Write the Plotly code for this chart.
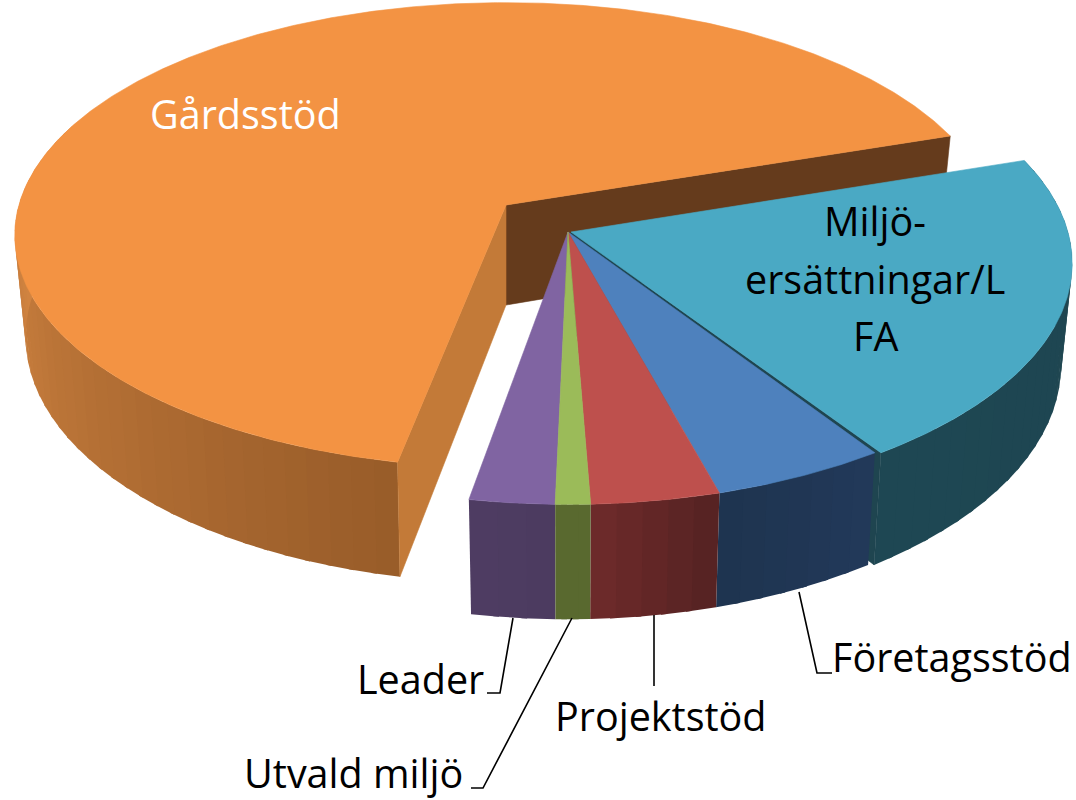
import numpy as np
import plotly.graph_objects as go

# Data (share of budget, %)
categories = ["Gårdsstöd", "Miljöersättningar/LFA", "Företagsstöd", "Projektstöd", "Utvald miljö", "Leader"]
values = [66.8, 20.7, 5.05, 3.7, 1.0, 2.45]

# Style
top_colors = ["#F39343", "#4AA9C4", "#4E81BD", "#BE504D", "#9BBB59", "#8064A2"]
wall_left = ["#D48642", "#1E4753", "#1E344F", "#6E2B2B", "#59692F", "#4E3C62"]
wall_right = ["#985C29", "#1F4550", "#22395A", "#552222", "#59692F", "#4C3B60"]
cut_colors = ("#C37A38", "#653B1C")
offsets = [(506, 205), (571, 232), (568, 232), (568, 232), (568, 232), (568, 232)]
scale_a = [0.99, 1.01, 1.0, 1.0, 1.0, 1.0]
scale_b = [0.965, 1.0, 1.0, 1.0, 1.0, 1.0]
ROT, A, B, K, DEPTH, CONVERGE = -168.8, 492.0, 237.0, 0.13, 100.0, 0.022


def project(theta, r, i, drop=0.0):
    t = np.radians(theta)
    X, Y = r * np.sin(t), r * np.cos(t)
    w = 1 + K * Y
    o = offsets[i]
    return (o[0] + A * scale_a[i] * X / w * (1 - CONVERGE * drop),
            o[1] - B * scale_b[i] * Y / w + drop * DEPTH / w)


def mix(c1, c2, f):
    a = [int(c1[i:i + 2], 16) for i in (1, 3, 5)]
    b = [int(c2[i:i + 2], 16) for i in (1, 3, 5)]
    return "rgb(%d,%d,%d)" % tuple(round(p + (q - p) * f) for p, q in zip(a, b))


def poly(fig, xs, ys, color, width=0.6):
    fig.add_trace(go.Scatter(x=list(xs), y=list(ys), mode="lines", fill="toself", fillcolor=color,
                             line=dict(color=color, width=width), hoverinfo="skip", showlegend=False))


def cut_face(fig, ang, i, color):
    x0, y0 = project(ang, 0, i)
    x1, y1 = project(ang, 1, i)
    x2, y2 = project(ang, 1, i, 1)
    x3, y3 = project(ang, 0, i, 1)
    poly(fig, [x0, x1, x2, x3, x0], [y0, y1, y2, y3, y0], color)


edges = ROT + np.concatenate([[0], np.cumsum(values)]) * 3.6
fig = go.Figure()


def draw_slice(i):
    a0, a1 = edges[i], edges[i + 1]
    # outer wall in bands of the gradient; each band overlaps the next to hide seams
    if i == 0:
        ts = np.linspace(a0, a0 + 100, 41)      # only the part facing the viewer
        span = 85.0
    else:
        ts = np.linspace(a0, a1, max(3, int((a1 - a0) / 2.5)) + 1)
        span = a1 - a0
    for j in range(len(ts) - 1):
        tm = (ts[j] + ts[j + 1]) / 2
        tn = min(ts[j + 1] + 0.6, ts[-1])
        x0, y0 = project(ts[j], 1, i)
        x1, y1 = project(tn, 1, i)
        x2, y2 = project(tn, 1, i, 1)
        x3, y3 = project(ts[j], 1, i, 1)
        f = float(np.clip(1 - (tm - a0) / span, 0, 1))
        poly(fig, [x0, x1, x2, x3, x0], [y0, y1, y2, y3, y0], mix(wall_left[i], wall_right[i], f), 0)
    if i == 0:
        cut_face(fig, a1, i, cut_colors[1])
        cut_face(fig, a0, i, cut_colors[0])
    if i == 1:
        cut_face(fig, a1, i, "#1F4550")
    # top face
    ts = np.linspace(a0, a1, max(8, int(a1 - a0) * 2))
    xs, ys = project(ts, 1, i)
    ax, ay = project(0, 0, i)
    poly(fig, np.r_[ax, xs, ax], np.r_[ay, ys, ay], top_colors[i])


for i in (0, 1, 2, 3, 5, 4):
    draw_slice(i)

# leader lines
leader_lines = [
    ([513, 500, 487], [618, 693, 693]),
    ([572, 483, 471], [618, 788, 788]),
    ([654, 654], [615, 686]),
    ([799, 817, 832], [592, 673, 673]),
]
for lx, ly in leader_lines:
    fig.add_trace(go.Scatter(x=lx, y=ly, mode="lines", line=dict(color="#000000", width=1.6),
                             hoverinfo="skip", showlegend=False))

FONT = "Open Sans"
labels = [
    ("Gårdsstöd", 245, 114, "#FFFFFF"),
    ("Miljö-", 875, 221, "#000000"),
    ("ersättningar/L", 875, 279, "#000000"),
    ("FA", 875, 336, "#000000"),
    ("Företagsstöd", 952, 657, "#000000"),
    ("Projektstöd", 660, 716, "#000000"),
    ("Leader", 420, 679, "#000000"),
    ("Utvald miljö", 353, 773, "#000000"),
]
for text, x, y, c in labels:
    fig.add_annotation(x=x, y=y, text=text, showarrow=False, xanchor="center", yanchor="middle",
                       font=dict(family=FONT, size=39.5, color=c))

fig.update_layout(width=1076, height=800, margin=dict(l=0, r=0, t=0, b=0), autosize=False,
                  paper_bgcolor="white", plot_bgcolor="white", showlegend=False,
                  xaxis=dict(range=[0, 1076], visible=False, fixedrange=True),
                  yaxis=dict(range=[800, 0], visible=False, fixedrange=True))
fig.write_html("out.html", config={"displayModeBar": False},
               post_script="document.body.style.margin='0';document.documentElement.style.overflow='hidden';")
